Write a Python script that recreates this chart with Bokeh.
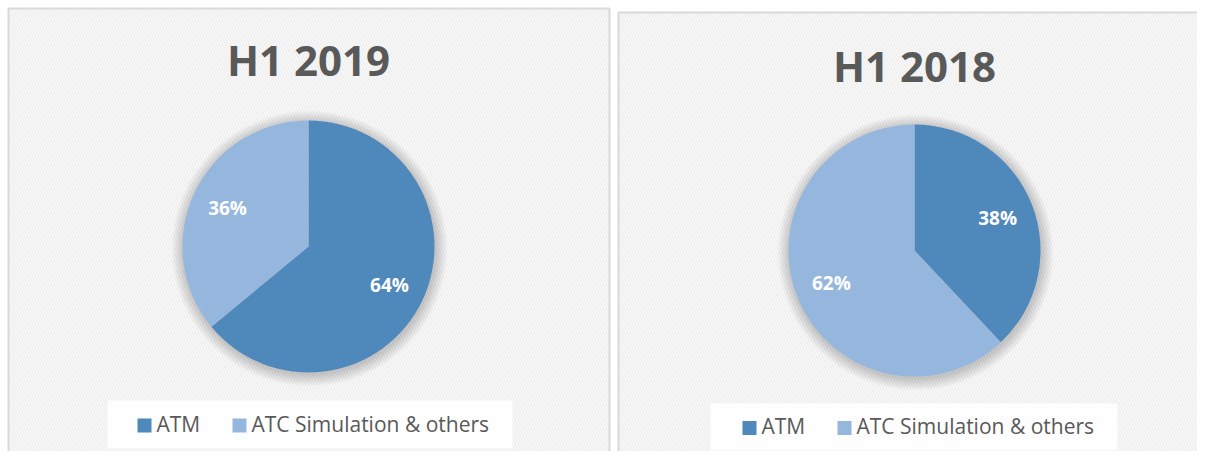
import numpy as np
from bokeh.plotting import figure
from bokeh.models import Range1d, ColumnDataSource
from bokeh.core.properties import value
from bokeh.embed import file_html
from bokeh.resources import INLINE

categories = ["ATM", "ATC Simulation & others"]
share_2019 = [64, 36]
share_2018 = [38, 62]
titles = ["H1 2019", "H1 2018"]
colors = ["#4f88bb", "#95b7de"]

W, H = 1197, 451
p = figure(width=W, height=H, x_range=Range1d(0, W), y_range=Range1d(0, H),
           output_backend="svg", toolbar_location=None, min_border=0)
p.axis.visible = False
p.grid.visible = False
p.outline_line_color = None
p.background_fill_color = "white"
p.border_fill_color = "white"

def Y(page_y):
    return H - page_y

def X(page_x):
    return page_x

panels = [
    dict(x0=8, x1=609, y0=8, title=titles[0], values=share_2019, cx=308, cy=246,
         ty=59, legend=(107, 512, 400, 448), lx=137),
    dict(x0=618, x1=1215, y0=12, title=titles[1], values=share_2018, cx=914, cy=250,
         ty=65, legend=(710, 1117, 403, 450), lx=742),
]

R = 126
for pn in panels:
    xa, xb = X(pn["x0"]), X(pn["x1"])
    ya, yb = Y(pn["y0"]), -20
    p.quad(left=xa, right=xb, top=ya, bottom=yb, fill_color="white",
           hatch_pattern="\\", hatch_color="#efefef", hatch_scale=6, hatch_weight=2,
           line_color="#d9d9d9", line_width=2)
    p.text(x=[X(pn["cx"])], y=[Y(pn["ty"])], text=[pn["title"]],
           text_font=value("Open Sans"), text_font_style="bold", text_font_size="42px",
           text_color="#595959", text_align="center", text_baseline="middle")
    cx, cy = X(pn["cx"]), Y(pn["cy"])
    for k in range(12, 0, -1):
        p.circle(x=[cx + 1], y=[cy - 2], radius=R + k, fill_color="#000000",
                 fill_alpha=0.015, line_color=None)
    vals = np.array(pn["values"], dtype=float)
    fr = vals / vals.sum()
    ends = np.pi / 2 - 2 * np.pi * np.cumsum(fr)
    starts = np.concatenate([[np.pi / 2], ends[:-1]])
    src = ColumnDataSource(dict(start=starts, end=ends, color=colors, cat=categories))
    p.wedge(x=cx, y=cy, radius=R, start_angle="start", end_angle="end",
            direction="clock", fill_color="color", line_color=None, source=src)
    mids = (starts + ends) / 2
    lr = 0.71 * R
    p.text(x=cx + lr * np.cos(mids), y=cy + lr * np.sin(mids),
           text=[f"{int(v)}%" for v in vals],
           text_font=value("Open Sans"), text_font_style="bold", text_font_size="19px",
           text_color="white", text_align="center", text_baseline="middle")
    l0, l1, t0, t1 = pn["legend"]
    p.quad(left=X(l0), right=X(l1), top=Y(t0), bottom=Y(t1), fill_color="white",
           fill_alpha=0.85, line_color=None)
    ly = (t0 + t1) / 2 + 1
    x = pn["lx"]
    offsets = [0, 95]
    for i, cat in enumerate(categories):
        sx = x + offsets[i]
        p.quad(left=X(sx), right=X(sx + 14), top=Y(ly - 7), bottom=Y(ly + 7),
               fill_color=colors[i], line_color=None)
        p.text(x=[X(sx + 19)], y=[Y(ly - 2)], text=[cat], text_font=value("Open Sans"),
               text_font_size="21px", text_color="#595959", text_align="left",
               text_baseline="middle")

open("out.html", "w").write(file_html(p, INLINE))
